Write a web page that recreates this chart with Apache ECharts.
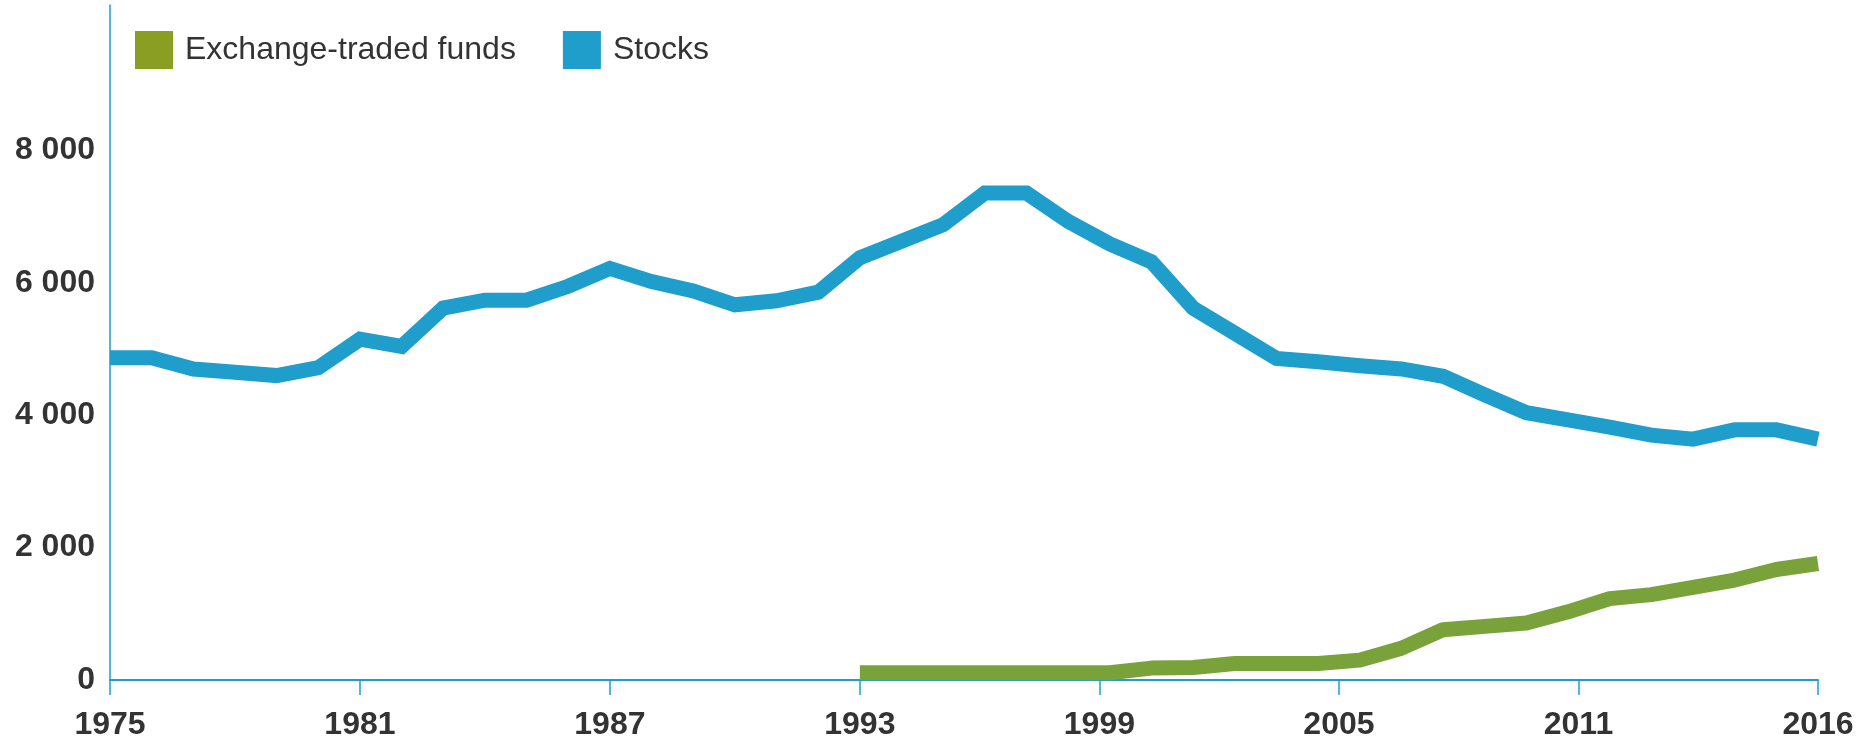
<!DOCTYPE html>
<html>
<head>
<meta charset="utf-8">
<script src="https://cdn.jsdelivr.net/npm/echarts@6/dist/echarts.min.js"></script>
<style>
  html, body { margin: 0; padding: 0; background: #fff; }
  #chart { width: 1868px; height: 744px; }
</style>
</head>
<body>
<div id="chart"></div>
<script>
// years on the x axis
var years = [];
for (var y = 1975; y <= 2016; y++) years.push(y);

var stocks = [4870, 4870, 4700, 4650, 4600, 4720, 5150, 5040, 5620, 5740,
              5740, 5950, 6220, 6020, 5880, 5670, 5730, 5860, 6380, 6630,
              6880, 7360, 7360, 6930, 6590, 6320, 5620, 5240, 4860, 4810,
              4750, 4700, 4590, 4310, 4040, 3930, 3820, 3700, 3640, 3780,
              3780, 3640];

// ETFs start in 1993
var etf = [null, null, null, null, null, null, null, null, null, null,
           null, null, null, null, null, null, null, null, 110, 110,
           110, 110, 110, 110, 110, 180, 190, 250, 250, 250,
           300, 480, 760, 810, 860, 1030, 1230, 1290, 1400, 1510,
           1670, 1760];

// the original ticks: six-year steps up to 1993, then 1993-2016 split in four
var xTicks = [1975, 1981, 1987, 1993, 1998.75, 2004.5, 2010.25, 2016];

var blue = '#1f9ecb';
var green = '#7aa23a';

function pairs(vals) {
    return years.map(function (yr, i) { return [yr, vals[i]]; });
}

var myChart = echarts.init(document.getElementById('chart'));

var option = {
    animation: false,
    textStyle: { fontFamily: 'Liberation Sans' },
    grid: { left: 110, right: 50, top: 5, bottom: 64, containLabel: false },
    legend: {
        left: 130,
        top: 26,
        icon: 'rect',
        itemWidth: 38,
        itemHeight: 38,
        itemGap: 47,
        textStyle: { fontSize: 32, color: '#333', padding: [0, 0, 0, 7] },
        data: [
            { name: 'Exchange-traded funds', itemStyle: { color: '#8a9e24' } },
            { name: 'Stocks', itemStyle: { color: blue } }
        ]
    },
    xAxis: {
        type: 'value',
        min: 1975,
        max: 2016,
        axisLine: { lineStyle: { color: blue, width: 2 } },
        axisTick: {
            show: true,
            length: 15,
            customValues: xTicks,
            lineStyle: { color: blue, width: 1.5 }
        },
        axisLabel: {
            customValues: xTicks,
            margin: 29,
            fontSize: 32,
            fontWeight: 'bold',
            color: '#333',
            formatter: function (v) { return String(Math.ceil(v)); }
        },
        splitLine: { show: false }
    },
    yAxis: {
        type: 'value',
        min: 0,
        max: 10200,
        interval: 2000,
        axisLine: { show: true, lineStyle: { color: blue, width: 1.5 } },
        axisTick: { show: false },
        splitLine: { show: false },
        axisLabel: {
            margin: 15,
            fontSize: 32,
            fontWeight: 'bold',
            color: '#333',
            formatter: function (v) {
                if (v > 8000) return '';
                return String(v).replace(/\B(?=(\d{3})+(?!\d))/g, ' ');
            }
        }
    },
    series: [
        {
            name: 'Exchange-traded funds',
            type: 'line',
            data: pairs(etf),
            showSymbol: false,
            lineStyle: { color: green, width: 15, cap: 'butt', join: 'round' },
            itemStyle: { color: green }
        },
        {
            name: 'Stocks',
            type: 'line',
            data: pairs(stocks),
            showSymbol: false,
            lineStyle: { color: blue, width: 15, cap: 'butt', join: 'miter' },
            itemStyle: { color: blue }
        }
    ]
};

myChart.setOption(option);
</script>
</body>
</html>
